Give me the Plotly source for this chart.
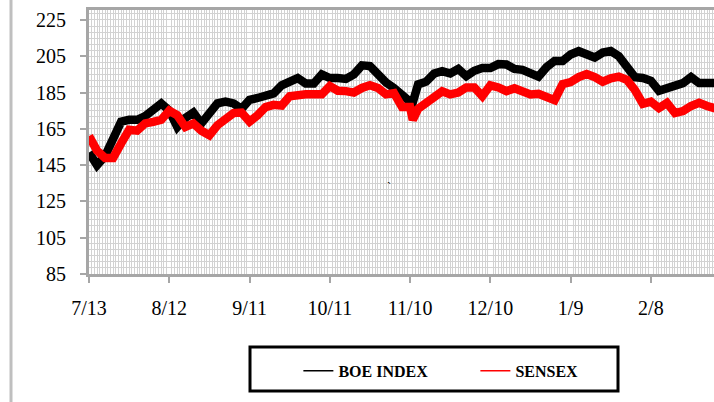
import plotly.graph_objects as go

dates = [
    "2009-07-13", "2009-07-16", "2009-07-19", "2009-07-22", "2009-07-25", "2009-07-28", "2009-07-31", "2009-08-03", "2009-08-06", "2009-08-09",
    "2009-08-12", "2009-08-15", "2009-08-18", "2009-08-21", "2009-08-24", "2009-08-27", "2009-08-30", "2009-09-02", "2009-09-05", "2009-09-08",
    "2009-09-11", "2009-09-14", "2009-09-17", "2009-09-20", "2009-09-23", "2009-09-26", "2009-09-29", "2009-10-02", "2009-10-05", "2009-10-08",
    "2009-10-11", "2009-10-14", "2009-10-17", "2009-10-20", "2009-10-23", "2009-10-26", "2009-10-29", "2009-11-01", "2009-11-04", "2009-11-07",
    "2009-11-10", "2009-11-11", "2009-11-13", "2009-11-16", "2009-11-19", "2009-11-22", "2009-11-25", "2009-11-28", "2009-12-01", "2009-12-04",
    "2009-12-07", "2009-12-10", "2009-12-13", "2009-12-16", "2009-12-19", "2009-12-22", "2009-12-25", "2009-12-28", "2009-12-31", "2010-01-03",
    "2010-01-06", "2010-01-09", "2010-01-12", "2010-01-15", "2010-01-18", "2010-01-21", "2010-01-24", "2010-01-27", "2010-01-30", "2010-02-02",
    "2010-02-05", "2010-02-08", "2010-02-11", "2010-02-14", "2010-02-17", "2010-02-20", "2010-02-23", "2010-02-26", "2010-03-01", "2010-03-04",
]

boe_index = [
    152, 145, 150, 160, 169, 170, 170, 172, 176, 179,
    175, 166, 171, 174, 168, 174, 179, 180, 179, 176,
    181, 182, 183.5, 184.5, 189, 191.5, 193, 190, 190, 195,
    193, 193, 192.5, 195, 200, 199.6, 194.5, 190.5, 187.5, 183,
    180, 179.5, 189.5, 191, 195.5, 196.8, 195.5, 198, 194, 197,
    198.5, 198.5, 200.7, 200.5, 198, 197.5, 195.5, 193.8, 199, 202.4,
    202.4, 206, 207.8, 206.5, 204.3, 207, 207.9, 205, 198.7, 193.5,
    193, 191.5, 186, 187.5, 189.8, 190.2, 193.5, 190.2, 190.2, 190.2,
]

sensex = [
    161, 153, 149, 149, 157, 164.5, 164, 168, 168.8, 170,
    175, 172.5, 166, 168, 164, 161.5, 167, 171, 173.7, 174,
    169, 172.5, 177, 178.2, 177.8, 183, 184, 184, 184, 184,
    188.6, 186, 185.8, 185, 187.5, 189, 187.5, 184, 184.7, 177,
    177, 170, 176, 179, 183, 185.7, 184, 185, 187.8, 187.8,
    183, 189, 187.8, 185.8, 187.3, 185, 184, 184.3, 182, 180.8,
    189.7, 190.8, 193.5, 195.2, 193.5, 191, 192.8, 193.8, 192, 186.5,
    178.8, 180, 176.5, 179.3, 173.7, 174.8, 177.6, 179.4, 177.6, 176.3,
]

series_names = ["BOE INDEX", "SENSEX"]
series_colors = ["#000000", "#FF0000"]

FONT = "Liberation Serif, Times New Roman, serif"
GRID = "#d2d2d2"
AXIS = "#a6a6a6"

fig = go.Figure()
for name, vals, col in zip(series_names, [boe_index, sensex], series_colors):
    fig.add_trace(go.Scatter(x=dates, y=vals, mode="lines", name=name,
                             line=dict(color=col, width=8.5), showlegend=False,
                             hoverinfo="skip"))
# thin legend entries
for name, col in zip(series_names, series_colors):
    fig.add_trace(go.Scatter(x=[None], y=[None], mode="lines", name=name,
                             line=dict(color=col, width=1.5), showlegend=True))

fig.update_layout(
    width=714, height=402,
    margin=dict(l=89, r=0, t=10, b=128),
    paper_bgcolor="white", plot_bgcolor="white",
    font=dict(family=FONT, color="black"),
    hovermode=False,
    legend=dict(orientation="h", x=0.335, y=-0.367, xanchor="left", yanchor="middle",
                font=dict(family=FONT, size=16, color="black", weight="bold"),
                bgcolor="rgba(0,0,0,0)", borderwidth=0, entrywidth=132),
    xaxis=dict(
        type="date",
        range=["2009-07-13", "2010-03-03 14:00"],
        tick0="2009-07-13", dtick=30 * 86400000, tickformat="%-m/%-d",
        showgrid=False,
        minor=dict(dtick=86400000, tick0="2009-07-13", showgrid=True, gridcolor=GRID, gridwidth=1),
        showline=True, linecolor=AXIS, linewidth=3, mirror=True,
        ticks="outside", ticklen=6, tickwidth=2, tickcolor=AXIS,
        tickfont=dict(family=FONT, size=20, color="black"),
        ticklabelstandoff=8,
        zeroline=False,
    ),
    yaxis=dict(
        range=[85, 230.5],
        tick0=85, dtick=20,
        showgrid=True, gridcolor=GRID, gridwidth=1,
        minor=dict(dtick=20 / 6, tick0=85, showgrid=True, gridcolor=GRID, gridwidth=1),
        showline=True, linecolor=AXIS, linewidth=3, mirror=False,
        ticks="outside", ticklen=6, tickwidth=2, tickcolor=AXIS,
        tickfont=dict(family=FONT, size=20, color="black"),
        ticklabelstandoff=10,
        zeroline=False,
    ),
    shapes=[
        dict(type="rect", xref="paper", yref="paper", x0=0.2576, x1=0.8464, y0=-0.2765, y1=-0.4432,
             line=dict(color="black", width=3), fillcolor="rgba(0,0,0,0)", layer="above"),
        dict(type="line", xref="paper", yref="paper", x0=-0.1248, x1=-0.1248, y0=-0.49, y1=1.05,
             line=dict(color="#bfbfbf", width=3)),
    ],
    annotations=[
        dict(x="2009-11-02", y=133, xref="x", yref="y", text="`", showarrow=False,
             font=dict(family=FONT, size=12, color="black")),
    ],
)

fig.write_html("out.html", config={"displayModeBar": False, "staticPlot": True},
               post_script="document.body.style.margin='0';document.body.style.padding='0';")
